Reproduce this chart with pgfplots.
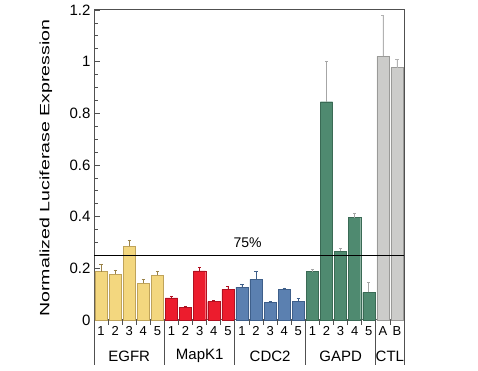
\documentclass[border=0pt]{standalone}
\usepackage{pgfplots}
\pgfplotsset{compat=1.18}
\usepackage{fontspec}
\setmainfont{Liberation Sans}
\definecolor{cY}{HTML}{F3D77F}
\definecolor{cYd}{HTML}{BFA35A}
\definecolor{cR}{HTML}{EC1C2D}
\definecolor{cRd}{HTML}{B01020}
\definecolor{cB}{HTML}{5B80B0}
\definecolor{cBd}{HTML}{3E5F8A}
\definecolor{cG}{HTML}{4F8A70}
\definecolor{cGd}{HTML}{3A6A55}
\definecolor{cC}{HTML}{CCCCCA}
\definecolor{cCd}{HTML}{9A9A98}
\definecolor{axc}{HTML}{505050}
\begin{document}
\begin{tikzpicture}
\path[use as bounding box] (0,0) rectangle (478pt,371pt);
\begin{axis}[
  at={(94pt,51pt)}, anchor=south west,
  scale only axis, width=310pt, height=310pt,
  xmin=-0.5, xmax=21.5, ymin=0, ymax=1.2,
  enlargelimits=false, clip=false,
  ybar, bar shift=0pt, bar width=0.86,
  axis line style={axc, line width=1pt},
  xtick={0,...,21},
  xticklabels={1,2,3,4,5,1,2,3,4,5,1,2,3,4,5,1,2,3,4,5,A,B},
  x tick label style={font=\fontsize{13}{13}\selectfont, yshift=-3pt},
  xtick style={draw=none},
  ytick={0,0.2,...,1.2},
  minor y tick num=3,
  tick align=inside,
  ytick pos=left,
  y tick label style={font=\fontsize{15}{15}\selectfont},
  /pgf/number format/assume math mode=true,
  major tick length=6pt, minor tick length=3.5pt,
  y tick style={axc, line width=0.8pt},
  ylabel={\scalebox{1.45}[1]{\fontsize{13.5}{13.5}\selectfont Normalized Luciferase Expression}},
  ylabel style={at={(axis description cs:-0.155,0.49)}, anchor=center},
  error bars/y dir=plus, error bars/y explicit,
  error bars/error mark options={rotate=90, mark size=1.6pt},
]
% EGFR
\addplot[fill=cY, draw=cYd, line width=0.4pt,
  error bars/error bar style={cYd!80!black, line width=0.6pt}]
  coordinates {(0,0.187) +- (0,0.028) (1,0.178) +- (0,0.016) (2,0.285) +- (0,0.025) (3,0.143) +- (0,0.014) (4,0.174) +- (0,0.013)};
% MapK1
\addplot[fill=cR, draw=cRd, line width=0.4pt,
  error bars/error bar style={cRd, line width=0.6pt}]
  coordinates {(5,0.086) +- (0,0.007) (6,0.050) +- (0,0.004) (7,0.190) +- (0,0.016) (8,0.071) +- (0,0.004) (9,0.119) +- (0,0.011)};
% CDC2
\addplot[fill=cB, draw=cBd, line width=0.4pt,
  error bars/error bar style={cBd, line width=0.6pt}]
  coordinates {(10,0.127) +- (0,0.011) (11,0.157) +- (0,0.033) (12,0.067) +- (0,0.006) (13,0.119) +- (0,0.006) (14,0.072) +- (0,0.011)};
% GAPD
\addplot[fill=cG, draw=cGd, line width=0.4pt,
  error bars/error bar style={gray!70, line width=0.7pt}]
  coordinates {(15,0.187) +- (0,0.010) (16,0.845) +- (0,0.155) (17,0.266) +- (0,0.010) (18,0.396) +- (0,0.019) (19,0.107) +- (0,0.038)};
% CTL
\addplot[fill=cC, draw=cCd, line width=0.4pt,
  error bars/error bar style={gray!60, line width=0.7pt}]
  coordinates {(20,1.020) +- (0,0.158) (21,0.977) +- (0,0.033)};
% 75% line
\addplot[sharp plot, black, line width=1.3pt, forget plot] coordinates {(-0.5,0.25) (21.5,0.25)};
\node[font=\fontsize{14}{14}\selectfont] at (axis cs:10.4,0.298) {75\%};
% boundary ticks
\pgfplotsinvokeforeach{0.5,1.5,2.5,3.5,5.5,6.5,7.5,8.5,10.5,11.5,12.5,13.5,15.5,16.5,17.5,18.5,20.5}{
  \draw[axc, line width=0.8pt] (axis cs:#1,0) -- ([yshift=-5pt]axis cs:#1,0);
}
% group separators
\pgfplotsinvokeforeach{-0.5,4.5,9.5,14.5,19.5,21.5}{
  \draw[axc, line width=1pt] (axis cs:#1,0) -- ([yshift=-45pt]axis cs:#1,0);
}
\node[font=\fontsize{15}{15}\selectfont] at ([yshift=-36pt]axis cs:2,0) {EGFR};
\node[font=\fontsize{15}{15}\selectfont] at ([yshift=-36pt]axis cs:7,0) {MapK1};
\node[font=\fontsize{15}{15}\selectfont] at ([yshift=-36pt]axis cs:12,0) {CDC2};
\node[font=\fontsize{15}{15}\selectfont] at ([yshift=-36pt]axis cs:17,0) {GAPD};
\node[font=\fontsize{15}{15}\selectfont] at ([yshift=-36pt]axis cs:20.5,0) {CTL};
\end{axis}
\end{tikzpicture}
\end{document}
